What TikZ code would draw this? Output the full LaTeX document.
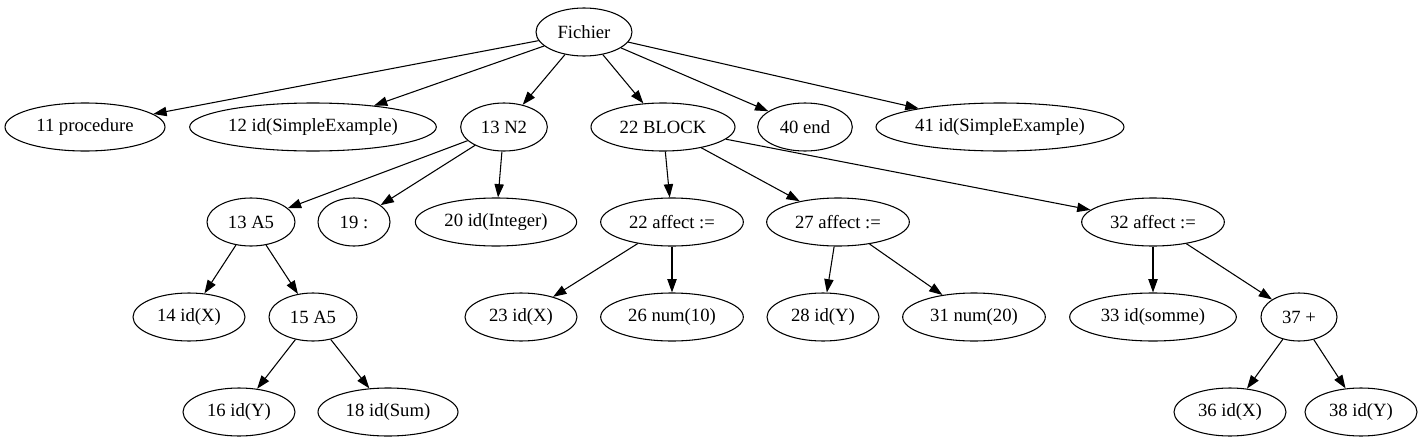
\documentclass[tikz,border=0pt]{standalone}
\usepackage{fontspec}
\setmainfont{Liberation Serif}
\usetikzlibrary{shapes.geometric,arrows.meta}
\begin{document}
\begin{tikzpicture}[x=0.75pt,y=-0.75pt,
  nd/.style={draw,ellipse,line width=0.8pt,minimum height=36pt,inner sep=0pt,font=\fontsize{14pt}{16pt}\selectfont},
  ed/.style={line width=0.8pt,-{Triangle[length=10pt,width=7pt]}}]
\useasboundingbox (0,0) rectangle (1422,443);
% row 0
\node[nd,minimum width=72pt] (f) at (584,32) {Fichier};
% row 1
\node[nd,minimum width=120pt] (n11) at (85,127) {11 procedure};
\node[nd,minimum width=185pt] (n12) at (313,127) {12 id(SimpleExample)};
\node[nd,minimum width=65pt] (n13) at (504,127) {13 N2};
\node[nd,minimum width=108pt] (n22) at (663,127) {22 BLOCK};
\node[nd,minimum width=71pt] (n40) at (805,127) {40 end};
\node[nd,minimum width=186pt] (n41) at (1000,127) {41 id(SimpleExample)};
% row 2
\node[nd,minimum width=66pt] (a13) at (251,222) {13 A5};
\node[nd,minimum width=54pt] (n19) at (354,222) {19 :};
\node[nd,minimum width=121pt] (n20) at (496,222) {20 id(Integer)};
\node[nd,minimum width=107pt] (f22) at (672,222) {22 affect :=};
\node[nd,minimum width=107pt] (f27) at (838,222) {27 affect :=};
\node[nd,minimum width=107pt] (f32) at (1153,222) {32 affect :=};
% row 3
\node[nd,minimum width=84pt] (n14) at (189,317) {14 id(X)};
\node[nd,minimum width=66pt] (a15) at (313,317) {15 A5};
\node[nd,minimum width=84pt] (n23) at (521,317) {23 id(X)};
\node[nd,minimum width=107pt] (n26) at (672,317) {26 num(10)};
\node[nd,minimum width=84pt] (n28) at (823,317) {28 id(Y)};
\node[nd,minimum width=107pt] (n31) at (974,317) {31 num(20)};
\node[nd,minimum width=125pt] (n33) at (1153,317) {33 id(somme)};
\node[nd,minimum width=57pt] (p37) at (1299,317) {37 +};
% row 4
\node[nd,minimum width=84pt] (n16) at (239,412) {16 id(Y)};
\node[nd,minimum width=105pt] (n18) at (388,412) {18 id(Sum)};
\node[nd,minimum width=84pt] (n36) at (1230,412) {36 id(X)};
\node[nd,minimum width=84pt] (n38) at (1361,412) {38 id(Y)};
% edges
\foreach \t in {n11,n12,n13,n22,n40,n41} \draw[ed] (f) -- (\t);
\foreach \t in {a13,n19,n20} \draw[ed] (n13) -- (\t);
\foreach \t in {f22,f27,f32} \draw[ed] (n22) -- (\t);
\draw[ed] (a13) -- (n14);
\draw[ed] (a13) -- (a15);
\draw[ed] (a15) -- (n16);
\draw[ed] (a15) -- (n18);
\draw[ed] (f22) -- (n23);
\draw[ed] (f22) -- (n26);
\draw[ed] (f27) -- (n28);
\draw[ed] (f27) -- (n31);
\draw[ed] (f32) -- (n33);
\draw[ed] (f32) -- (p37);
\draw[ed] (p37) -- (n36);
\draw[ed] (p37) -- (n38);
\end{tikzpicture}
\end{document}
